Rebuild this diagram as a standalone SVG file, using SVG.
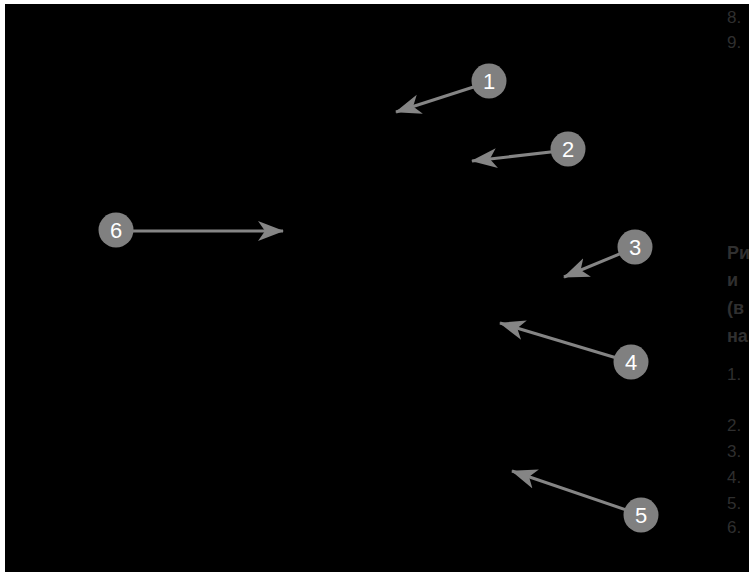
<svg xmlns="http://www.w3.org/2000/svg" width="749" height="574" viewBox="0 0 749 574">
<style>
.bg{fill:#000}
.c{fill:#808080}
.n{fill:#fff;font-family:"Liberation Sans",Arial,sans-serif;font-size:22px;text-anchor:middle}
.ln{stroke:#858585;stroke-width:3;fill:none;marker-end:url(#ah)}
.t{fill:#2f2f2f;font-family:"Liberation Sans",Arial,sans-serif;font-size:17px}
.b{fill:#303030;font-family:"Liberation Sans",Arial,sans-serif;font-size:18px;font-weight:bold}
</style>
<defs>
<marker id="ah" markerUnits="userSpaceOnUse" markerWidth="26" markerHeight="22" viewBox="0 0 26 22" refX="25" refY="11" orient="auto">
<path d="M0,1 L26,11 L0,21 L7,11 Z" fill="#858585"/>
</marker>
</defs>
<rect width="749" height="574" fill="#fff"/>
<rect class="bg" x="5" y="4" width="744" height="568"/>
<g id="text">
<text class="t" x="727" y="23">8.</text>
<text class="t" x="727" y="48">9.</text>
<text class="b" x="727" y="259">Ри</text>
<text class="b" x="727" y="286">и</text>
<text class="b" x="727" y="314">(в</text>
<text class="b" x="727" y="342">на</text>
<text class="t" x="727" y="380">1.</text>
<text class="t" x="727" y="431">2.</text>
<text class="t" x="727" y="457">3.</text>
<text class="t" x="727" y="483">4.</text>
<text class="t" x="727" y="509">5.</text>
<text class="t" x="727" y="533">6.</text>
</g>
<g id="connectors">
<line class="ln" x1="489" y1="82" x2="396" y2="112"/>
<line class="ln" x1="568" y1="150" x2="472" y2="161"/>
<line class="ln" x1="634" y1="248" x2="564" y2="277"/>
<line class="ln" x1="630" y1="362" x2="500" y2="323"/>
<line class="ln" x1="641" y1="515" x2="512" y2="471"/>
<line class="ln" x1="116" y1="231" x2="283" y2="231"/>
</g>
<g id="node1"><circle class="c" cx="489" cy="81" r="17.5"/><text class="n" x="489" y="89">1</text></g>
<g id="node2"><circle class="c" cx="568" cy="149" r="17.5"/><text class="n" x="568" y="157">2</text></g>
<g id="node3"><circle class="c" cx="635" cy="247" r="17.5"/><text class="n" x="635" y="255">3</text></g>
<g id="node4"><circle class="c" cx="631" cy="362" r="17.5"/><text class="n" x="631" y="370">4</text></g>
<g id="node5"><circle class="c" cx="641" cy="515" r="17.5"/><text class="n" x="641" y="523">5</text></g>
<g id="node6"><circle class="c" cx="116" cy="230" r="17.5"/><text class="n" x="116" y="238">6</text></g>
</svg>
